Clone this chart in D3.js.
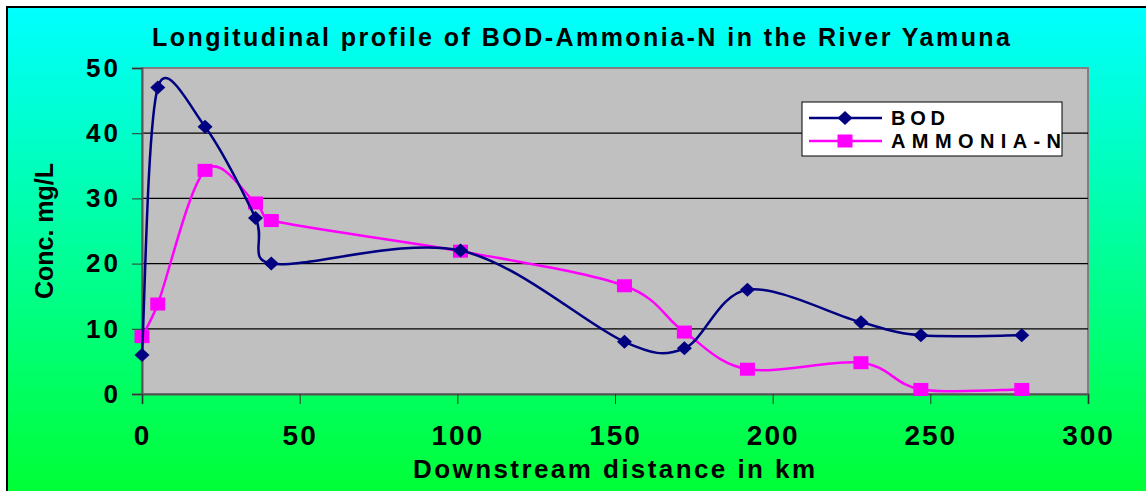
<!DOCTYPE html>
<html>
<head>
<meta charset="utf-8">
<script src="https://cdn.jsdelivr.net/npm/d3@7"></script>
<style>
  body { margin: 0; background: #fff; }
  text { font-family: "Liberation Sans", Arial, sans-serif; font-weight: bold; fill: #000; }
</style>
</head>
<body>
<svg id="graph" width="1146" height="491"></svg>
<script>
// Data
var distance = [0, 5, 20, 36, 41, 101, 153, 172, 192, 228, 247, 279];
var bod      = [6, 47, 41, 27, 20, 22, 8, 7, 16, 11, 9, 9];
var ammonia  = [8.8, 13.8, 34.3, 29.3, 26.6, 21.9, 16.6, 9.5, 3.8, 4.8, 0.7, 0.7];
var xTicks = [0, 50, 100, 150, 200, 250, 300];
var yTicks = [0, 10, 20, 30, 40, 50];

var svg = d3.select("#graph"),
    plot = {left: 142, right: 1088, top: 68, bottom: 394};

// Background gradient, cyan to green
var grad = svg.append("defs").append("linearGradient")
    .attr("id", "bg").attr("x1", 0).attr("y1", 0).attr("x2", 0).attr("y2", 1);
grad.append("stop").attr("offset", "0%").attr("stop-color", "#00ffff");
grad.append("stop").attr("offset", "100%").attr("stop-color", "#00ff33");

svg.append("rect").attr("x", 7).attr("y", 7).attr("width", 1146).attr("height", 491)
    .attr("fill", "url(#bg)").attr("stroke", "#000").attr("stroke-width", 2);

// Scales
var xScale = d3.scaleLinear().domain([0, 300]).range([plot.left, plot.right]);
var yScale = d3.scaleLinear().domain([0, 50]).range([plot.bottom, plot.top]);

// Plot area
svg.append("rect")
    .attr("x", plot.left).attr("y", plot.top)
    .attr("width", plot.right - plot.left).attr("height", plot.bottom - plot.top)
    .attr("fill", "#c0c0c0").attr("stroke", "#808080").attr("stroke-width", 2);

// Gridlines
svg.append("g").selectAll("line").data(yTicks.filter(v => v > 0 && v < 50)).enter()
    .append("line")
    .attr("x1", plot.left).attr("x2", plot.right)
    .attr("y1", v => yScale(v)).attr("y2", v => yScale(v))
    .attr("stroke", "#000").attr("stroke-width", 1.2);

// Axes
var yAxis = d3.axisLeft(yScale).tickValues(yTicks).tickSize(10).tickPadding(14);
var xAxis = d3.axisBottom(xScale).tickValues(xTicks).tickSize(10).tickPadding(21);

var gy = svg.append("g").attr("transform", "translate(" + plot.left + ",0)").call(yAxis);
var gx = svg.append("g").attr("transform", "translate(0," + plot.bottom + ")").call(xAxis);

[gx, gy].forEach(function(g) {
    g.select(".domain").attr("stroke", "#555").attr("stroke-width", 2);
    g.selectAll(".tick line").attr("stroke", "#333");
});
gy.selectAll(".tick text").style("font-size", "26px").style("letter-spacing", "3px")
    .attr("x", -21);
gx.selectAll(".tick text").style("font-size", "28px").style("letter-spacing", "2px");

// Excel-like smoothed line, computed in pixel space
function smoothPath(pts) {
    var p = d3.path();
    p.moveTo(pts[0][0], pts[0][1]);
    function dist(a, b) { return Math.hypot(b[0] - a[0], b[1] - a[1]); }
    for (var i = 0; i < pts.length - 1; ++i) {
        var p0 = pts[Math.max(i - 1, 0)], p1 = pts[i], p2 = pts[i + 1],
            p3 = pts[Math.min(i + 2, pts.length - 1)];
        var d12 = dist(p1, p2), d02 = dist(p0, p2), d13 = dist(p1, p3);
        var f1 = (d02 / 6 < d12 / 2) ? 1 / 6 : d12 / (2 * d02);
        var f2 = (d13 / 6 < d12 / 2) ? 1 / 6 : d12 / (2 * d13);
        var c1 = [p1[0] + f1 * (p2[0] - p0[0]), p1[1] + f1 * (p2[1] - p0[1])];
        var c2 = [p2[0] - f2 * (p3[0] - p1[0]), p2[1] - f2 * (p3[1] - p1[1])];
        p.bezierCurveTo(c1[0], c1[1], c2[0], c2[1], p2[0], p2[1]);
    }
    return p.toString();
}

var series = [
    {name: "BOD", values: bod, color: "#000080", marker: "diamond"},
    {name: "AMMONIA-N", values: ammonia, color: "#ff00ff", marker: "square"}
];

function drawMarker(g, type, color, x, y) {
    if (type == "diamond")
        g.append("path")
            .attr("d", "M" + x + "," + (y - 7) + "L" + (x + 7.5) + "," + y + "L" + x + "," + (y + 7) + "L" + (x - 7.5) + "," + y + "Z")
            .attr("fill", color);
    else
        g.append("rect").attr("x", x - 7.5).attr("y", y - 6.5).attr("width", 15).attr("height", 13)
            .attr("fill", color);
}

// Draw ammonia first, BOD on top
series.slice().reverse().forEach(function(s) {
    var pts = distance.map((d, i) => [xScale(d), yScale(s.values[i])]);
    svg.append("path").attr("d", smoothPath(pts))
        .attr("fill", "none").attr("stroke", s.color).attr("stroke-width", 2.5);
    var g = svg.append("g");
    pts.forEach(p => drawMarker(g, s.marker, s.color, p[0], p[1]));
});

// Legend
var leg = svg.append("g");
leg.append("rect").attr("x", 802).attr("y", 102).attr("width", 260).attr("height", 54)
    .attr("fill", "#fff").attr("stroke", "#000").attr("stroke-width", 1);
series.forEach(function(s, i) {
    var y = 118 + i * 23;
    leg.append("line").attr("x1", 809).attr("x2", 882).attr("y1", y).attr("y2", y)
        .attr("stroke", s.color).attr("stroke-width", 2.5);
    drawMarker(leg, s.marker, s.color, 845, y);
    leg.append("text").attr("x", 891).attr("y", y + 7).style("font-size", "20px")
        .attr("textLength", i == 0 ? 54 : 170).attr("lengthAdjust", "spacing")
        .text(s.name);
});

// Title and axis labels
svg.append("text").attr("x", 152).attr("y", 46)
    .style("font-size", "25px")
    .attr("textLength", 858).attr("lengthAdjust", "spacing")
    .text("Longitudinal profile of BOD-Ammonia-N in the River Yamuna");

svg.append("text").attr("transform", "translate(53,231) rotate(-90)")
    .attr("text-anchor", "middle").style("font-size", "25px")
    .text("Conc. mg/L");

svg.append("text").attr("x", 413).attr("y", 478).style("font-size", "26px")
    .attr("textLength", 402).attr("lengthAdjust", "spacing")
    .text("Downstream distance in km");
</script>
</body>
</html>
